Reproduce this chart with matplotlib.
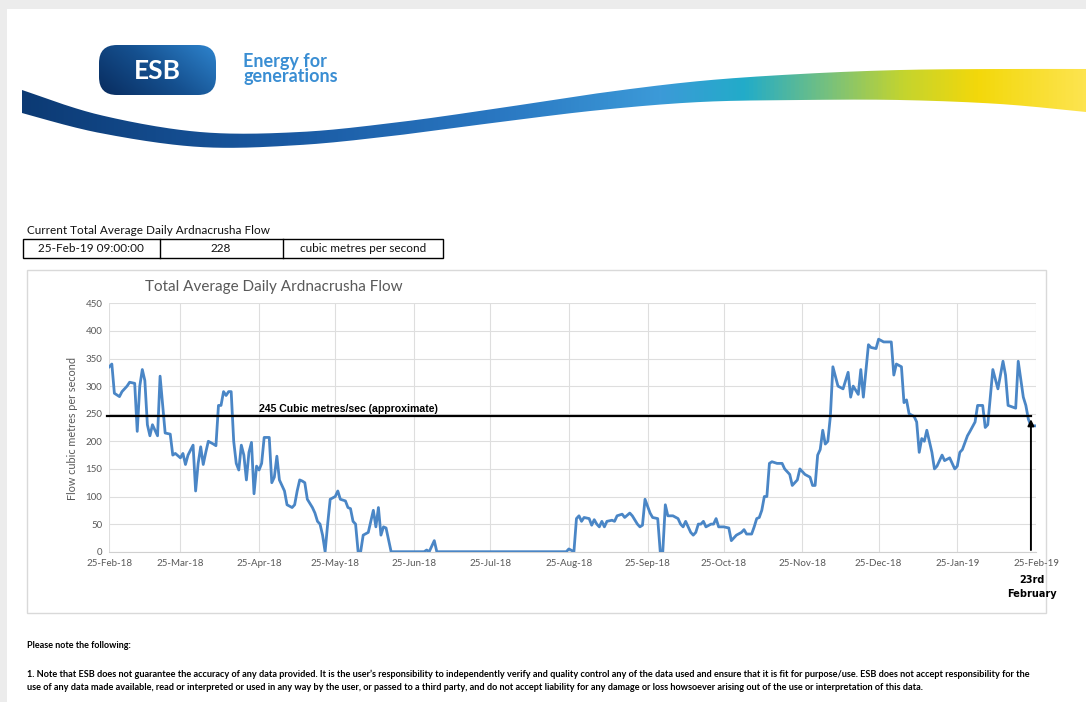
import datetime as dt
import numpy as np
import matplotlib
matplotlib.use("Agg")
import matplotlib.pyplot as plt
import matplotlib.dates as mdates
from matplotlib.patches import Rectangle, FancyBboxPatch, PathPatch
from matplotlib.path import Path
from matplotlib.colors import LinearSegmentedColormap

# ---- data (days after 25-Feb-18, flow in m3/s) ----
start_date = dt.date(2018, 2, 25)
days = [0, 1, 2, 4, 5, 7, 8, 10, 11, 12, 13, 14, 15, 16, 17, 19, 20, 22, 24, 25,
        26, 28, 29, 30, 31, 33, 34, 35, 36, 37, 38, 39, 41, 42, 43, 44, 45, 46, 47, 48,
        49, 50, 51, 52, 53, 54, 55, 56, 57, 58, 59, 60, 61, 63, 64, 65, 66, 67, 69, 70,
        72, 73, 74, 75, 76, 77, 78, 80, 81, 82, 83, 84, 85, 86, 87, 89, 90, 91, 93, 94,
        95, 96, 97, 98, 99, 100, 102, 103, 104, 105, 106, 107, 108, 109, 111, 124, 125, 126, 128, 129,
        180, 181, 183, 184, 185, 186, 187, 189, 190, 191, 192, 193, 194, 195, 196, 198, 199, 200, 202, 203,
        205, 206, 208, 209, 210, 211, 213, 214, 216, 217, 218, 219, 220, 222, 224, 225, 226, 227, 229, 230,
        231, 232, 233, 234, 235, 237, 238, 239, 240, 242, 244, 245, 247, 249, 250, 251, 253, 254, 255, 256,
        257, 258, 259, 260, 261, 263, 265, 266, 268, 269, 271, 272, 274, 276, 277, 278, 279, 280, 281, 282,
        283, 284, 285, 287, 289, 290, 291, 292, 293, 295, 296, 297, 299, 300, 302, 303, 305, 308, 309, 310,
        312, 313, 314, 315, 317, 318, 319, 320, 321, 322, 324, 325, 326, 328, 329, 331, 332, 333, 334, 335,
        336, 338, 339, 341, 342, 344, 345, 346, 348, 350, 352, 353, 354, 357, 358, 360, 361, 362, 363, 365]
flow = [335, 340, 287, 281, 290, 300, 307, 305, 218, 300, 330, 310, 230, 210, 230, 210, 318, 215, 213, 175,
        178, 170, 178, 158, 175, 193, 110, 160, 190, 158, 180, 200, 195, 192, 265, 265, 290, 283, 290, 290,
        200, 160, 148, 193, 175, 130, 180, 198, 105, 155, 148, 160, 207, 207, 125, 135, 173, 130, 110, 85,
        80, 85, 110, 130, 128, 125, 95, 80, 70, 55, 50, 30, 0, 50, 95, 100, 110, 95, 92, 80,
        78, 55, 50, 0, 0, 30, 35, 55, 75, 45, 80, 30, 45, 43, 0, 0, 3, 0, 20, 0,
        0, 5, 0, 60, 65, 55, 62, 60, 48, 58, 50, 45, 55, 45, 55, 57, 55, 65, 68, 62,
        70, 65, 50, 45, 48, 95, 70, 62, 60, 0, 0, 85, 65, 65, 60, 50, 45, 55, 35, 30,
        35, 50, 50, 55, 45, 50, 50, 60, 45, 45, 43, 20, 30, 35, 40, 32, 32, 45, 60, 62,
        75, 100, 100, 160, 163, 160, 160, 150, 140, 120, 130, 150, 140, 135, 120, 120, 175, 185, 220, 195,
        200, 245, 335, 300, 295, 310, 325, 280, 300, 285, 330, 280, 375, 370, 368, 385, 380, 380, 320, 340,
        335, 270, 275, 250, 245, 235, 180, 205, 200, 220, 180, 150, 155, 175, 165, 170, 160, 150, 155, 180,
        185, 210, 218, 235, 265, 265, 225, 230, 330, 295, 345, 320, 265, 260, 345, 280, 265, 240, 228, 228]

threshold = 245
threshold_label = "245 Cubic metres/sec (approximate)"
marker_day = 363
marker_label = "23rd\nFebruary"
y_ticks = [0, 50, 100, 150, 200, 250, 300, 350, 400, 450]

table_cells = ["25-Feb-19 09:00:00", "228", "cubic metres per second"]
table_title = "Current Total Average Daily Ardnacrusha Flow"
chart_title = "Total Average Daily Ardnacrusha Flow"
y_label = "Flow cubic metres per second"
note_head = "Please note the following:"
note_lines = [
    "1. Note that ESB does not guarantee the accuracy of any data provided. It is the user\u2019s responsibility to "
    "independently verify and quality control any of the data used and ensure that it is fit for purpose/use. "
    "ESB does not accept responsibility for the",
    "use of any data made available, read or interpreted or used in any way by the user, or passed to a third "
    "party, and do not accept liability for any damage or loss howsoever arising out of the use or interpretation "
    "of this data.",
]

FONT = "Lato"
GREY = "#595959"
W, H = 1086, 702


def catmull(pts, n=30):
    p = np.asarray(pts, float)
    p = np.vstack([p[0], p, p[-1]])
    out = []
    t = np.linspace(0, 1, n, endpoint=False)[:, None]
    for i in range(1, len(p) - 2):
        p0, p1, p2, p3 = p[i - 1], p[i], p[i + 1], p[i + 2]
        out.append(0.5 * (2 * p1 + (-p0 + p2) * t + (2 * p0 - 5 * p1 + 4 * p2 - p3) * t ** 2
                          + (-p0 + 3 * p1 - 3 * p2 + p3) * t ** 3))
    out.append(p[-2][None])
    return np.vstack(out)


fig = plt.figure(figsize=(W / 100, H / 100), dpi=100, facecolor="#ececec")

# page layer in pixel coordinates
bg = fig.add_axes([0, 0, 1, 1])
bg.set_xlim(0, W)
bg.set_ylim(H, 0)
bg.axis("off")
bg.add_patch(Rectangle((7, 9), W, H, facecolor="white", edgecolor="none"))

# swoosh
top = catmull([(22, 90), (100, 115), (200, 132), (300, 132), (400, 122), (500, 108), (600, 93),
               (700, 81), (800, 74), (900, 70), (1000, 69), (1086, 69)])
bot = catmull([(22, 113), (100, 133), (200, 147), (300, 145), (400, 135), (500, 122), (600, 110),
               (700, 102), (800, 100), (900, 100), (1000, 104), (1086, 112)])
poly = np.vstack([top, bot[::-1]])
swoosh_path = PathPatch(Path(poly), facecolor="none", edgecolor="none", transform=bg.transData)
bg.add_patch(swoosh_path)
swoosh_cmap = LinearSegmentedColormap.from_list("swoosh", [
    (0.0, "#0c3a74"), (0.25, "#1a5aa3"), (0.45, "#2a78c2"), (0.6, "#3c9ad8"),
    (0.68, "#22acc9"), (0.76, "#78c17c"), (0.83, "#c4d42e"), (0.9, "#f3d80a"), (1.0, "#fde44f")])
grad = np.linspace(0, 1, 512)[None, :]
im = bg.imshow(grad, cmap=swoosh_cmap, extent=(22, W, 150, 60), aspect="auto", zorder=1)
im.set_clip_path(swoosh_path)

# logo
logo_box = FancyBboxPatch((99, 45), 117, 50, boxstyle="round,pad=0,rounding_size=18",
                          facecolor="none", edgecolor="none", transform=bg.transData)
bg.add_patch(logo_box)
yy, xx = np.mgrid[0:1:60j, 0:1:120j]
logo_grad = 0.65 * xx + 0.35 * (1 - yy)
logo_cmap = LinearSegmentedColormap.from_list("logo", ["#082a5c", "#15508f", "#2f86d0"])
li = bg.imshow(logo_grad, cmap=logo_cmap, extent=(97, 218, 97, 43), origin="upper", aspect="auto", zorder=2)
li.set_clip_path(logo_box)
bg.text(157, 71, "ESB", color="white", fontsize=19, fontweight="bold", family=FONT,
        ha="center", va="center", zorder=3)
bg.text(243, 69, "Energy for\ngenerations", color="#3a8ed3", fontsize=13, family=FONT,
        fontweight="bold", ha="left", va="center", linespacing=0.85, zorder=3)

# current value table
bg.text(27, 231, table_title, fontsize=8.5, family=FONT, ha="left", va="center", color="#111111")
bg.add_patch(Rectangle((23, 239), 420, 19, facecolor="none", edgecolor="black", lw=1))
for xv in (160, 283):
    bg.plot([xv, xv], [239, 258], color="black", lw=1)
for xc, txt in zip((91, 221, 363), table_cells):
    bg.text(xc, 248.5, txt, fontsize=8.5, family=FONT, ha="center", va="center", color="#111111")

# chart frame and title
bg.add_patch(Rectangle((27, 270), 1019, 343, facecolor="white", edgecolor="#d9d9d9", lw=1))
bg.text(145, 287, chart_title, fontsize=11, family=FONT, color=GREY, ha="left", va="center")
bg.text(72, 428, y_label, fontsize=7.8, family=FONT, color=GREY, rotation=90, ha="center", va="center")

# notes
bg.text(27, 646, note_head, fontsize=6.5, family=FONT, fontweight="bold", ha="left", va="center")
for yv, line in zip((674, 688), note_lines):
    bg.text(27, yv, line, fontsize=6.55, family=FONT, fontweight="bold", ha="left", va="center")

# chart axes
x0, x1, y0, y1 = 109.3, 1036, 551.7, 303.3
ax = fig.add_axes([x0 / W, (H - y0) / H, (x1 - x0) / W, (y0 - y1) / H])
ax.set_facecolor("none")
dates = [start_date + dt.timedelta(days=d) for d in days]
ax.plot(dates, flow, color="#4a86c6", lw=2.0, zorder=3)

ax.set_ylim(0, 450)
ax.set_xlim(start_date, start_date + dt.timedelta(days=365))
ax.set_yticks(y_ticks)
ax.xaxis.set_major_locator(mdates.MonthLocator(bymonthday=25))
ax.xaxis.set_major_formatter(mdates.DateFormatter("%d-%b-%y"))
ax.grid(True, color="#dedede", lw=0.8)
ax.set_axisbelow(True)
for s in ("top", "right", "left"):
    ax.spines[s].set_visible(False)
ax.spines["bottom"].set_color("#d0d0d0")
ax.tick_params(length=0, labelsize=7, labelcolor=GREY, pad=5)
for lab in ax.get_xticklabels() + ax.get_yticklabels():
    lab.set_family(FONT)

# threshold line, arrow and annotations
left_day = start_date - dt.timedelta(days=1)
mark_date = start_date + dt.timedelta(days=marker_day)
ax.plot([left_day, mark_date], [threshold, threshold], color="black", lw=1.6, zorder=4, clip_on=False)
ax.annotate("", xy=(mark_date, threshold), xytext=(mark_date, -2),
            arrowprops=dict(arrowstyle="-|>", color="black", lw=1.4, mutation_scale=9),
            annotation_clip=False, zorder=5)
ax.text(start_date + dt.timedelta(days=59), threshold + 4, threshold_label, fontsize=7.6, fontweight="bold",
        family="Liberation Sans", ha="left", va="bottom")
bg.text(1032, 587, marker_label, fontsize=7, fontweight="bold", family="Liberation Sans Narrow",
        ha="center", va="center", linespacing=1.5)

fig.savefig("out.png", dpi=100, facecolor=fig.get_facecolor())
